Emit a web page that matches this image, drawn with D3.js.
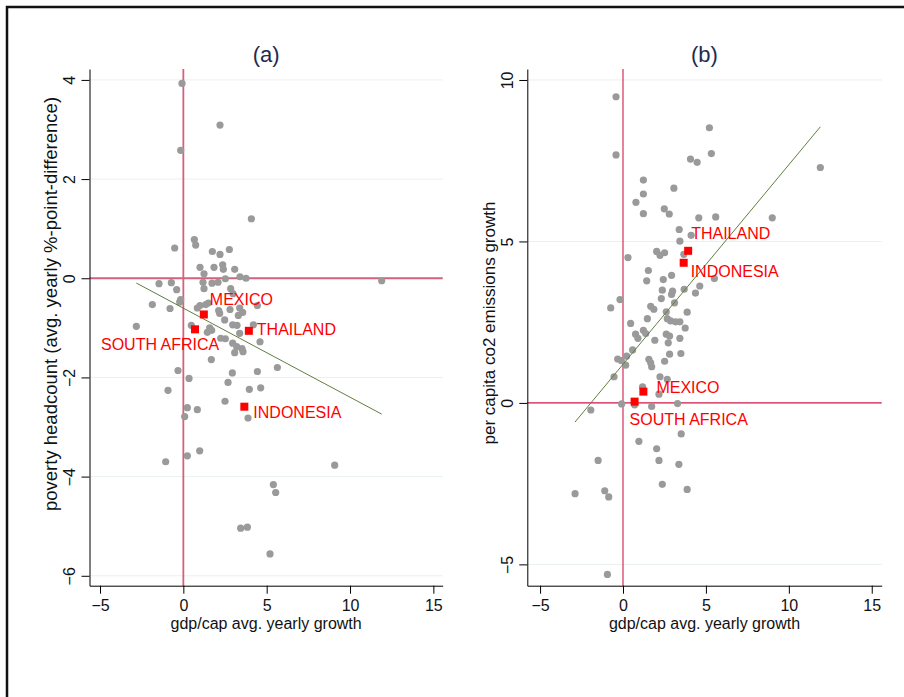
<!DOCTYPE html>
<html>
<head>
<meta charset="utf-8">
<script src="https://cdn.jsdelivr.net/npm/d3@7"></script>
<style>
  body { margin: 0; background: #fff; }
  svg { display: block; font-family: "Liberation Sans", Arial, sans-serif; }
</style>
</head>
<body>
<div id="chart"></div>
<script>
// panel (a): gdp/cap growth vs poverty headcount change
const gdpA = [-0.08, 2.20, -0.16, 4.08, -0.52, 0.66, 0.74, 1.74, 2.20, 2.76,
  1.00, 1.84, 2.36, 2.40, 3.08, 1.24, 3.40, 3.76, 2.52, 1.18,
  1.72, 2.08, -1.46, -0.72, -0.40, 1.24, 2.84, 2.98, 11.90, -0.16,
  -0.22, -1.86, -0.80, 0.84, 1.34, 2.12, 2.80, 3.38, 3.56, 4.44,
  2.18, 2.48, 2.96, 3.22, 4.20, -2.82, 0.48, 1.58, 1.44, 3.38,
  2.24, 2.52, 4.60, 2.96, 3.20, 3.52, 3.58, 3.08, 1.68, 5.64,
  -0.32, 2.94, 4.44, 0.34, 2.68, -0.92, 3.96, 4.64, 2.50, 0.24,
  0.84, 0.08, 3.88, -1.06, 0.24, 0.98, 9.08, 5.40, 5.54, 3.44,
  3.84, 5.20, 1.00, 1.50, 1.70, 3.30];
const povA = [3.93, 3.09, 2.58, 1.20, 0.61, 0.78, 0.67, 0.54, 0.48, 0.58,
  0.22, 0.22, 0.27, 0.18, 0.18, 0.09, 0.03, 0.00, -0.01, -0.08,
  -0.10, -0.08, -0.11, -0.09, -0.23, -0.21, -0.21, -0.31, -0.05, -0.43,
  -0.48, -0.53, -0.61, -0.60, -0.53, -0.65, -0.63, -0.60, -0.69, -0.55,
  -0.71, -0.84, -0.94, -0.95, -0.94, -0.97, -0.95, -1.00, -1.09, -1.11,
  -1.21, -1.22, -1.28, -1.31, -1.38, -1.42, -1.48, -1.50, -1.64, -1.80,
  -1.86, -1.91, -1.88, -2.02, -2.10, -2.26, -2.24, -2.21, -2.48, -2.61,
  -2.65, -2.79, -2.82, -3.70, -3.58, -3.48, -3.77, -4.16, -4.32, -5.04,
  -5.02, -5.56, -0.55, -0.50, -1.05, -0.75];

// panel (b): gdp/cap growth vs per capita co2 emissions growth
const gdpB = [-0.42, 5.21, -0.42, 5.33, 4.07, 4.47, 11.90, 1.23, 3.07, 1.23,
  0.78, 1.23, 2.49, 2.79, 4.57, 5.59, 9.00, 3.39, 3.43, 4.11,
  0.30, 2.03, 2.51, 2.23, 3.67, 1.53, 1.43, 2.43, 2.93, 5.51,
  2.37, 2.99, 2.93, 3.69, 4.63, 4.37, 2.31, -0.18, 3.11, -0.74,
  1.67, 1.86, 2.61, 3.87, 1.47, 2.67, 2.87, 3.17, 3.43, 0.46,
  3.75, 1.23, 0.76, 0.90, 1.37, 2.61, 2.81, 2.73, 1.92, 3.43,
  0.58, 2.81, 3.49, -0.32, -0.10, 0.22, 0.16, 1.56, 1.67, 1.73,
  2.51, -0.54, 2.23, 2.67, 1.18, 2.17, -0.08, 0.70, 1.73, 3.29,
  -1.94, 3.51, 0.96, 2.03, -1.50, 2.17, 3.37, 2.37, 3.87, -2.89,
  -1.10, -0.86, -0.94];
const co2B = [9.48, 8.52, 7.68, 7.72, 7.55, 7.45, 7.29, 6.90, 6.65, 6.47,
  6.21, 5.86, 6.01, 5.85, 5.73, 5.76, 5.73, 5.37, 5.01, 5.19,
  4.50, 4.69, 4.65, 4.57, 4.60, 4.10, 3.78, 3.82, 3.95, 3.85,
  3.49, 3.46, 3.36, 3.52, 3.62, 3.40, 3.23, 3.20, 3.10, 2.94,
  2.99, 2.90, 2.82, 2.81, 2.61, 2.61, 2.54, 2.51, 2.51, 2.46,
  2.32, 2.25, 2.13, 2.00, 2.15, 2.13, 2.07, 1.86, 1.94, 2.00,
  1.64, 1.51, 1.53, 1.36, 1.31, 1.45, 1.17, 1.35, 1.24, 1.12,
  1.29, 0.81, 0.81, 0.73, 0.50, 0.27, -0.03, -0.06, -0.11, -0.02,
  -0.22, -0.96, -1.19, -1.42, -1.78, -1.78, -1.90, -2.52, -2.68, -2.81,
  -2.72, -2.91, -5.31];

// highlighted countries
const countries = ["MEXICO", "SOUTH AFRICA", "THAILAND", "INDONESIA"];
const countryGdp = [1.23, 0.70, 3.93, 3.66];
const countryPov = [-0.73, -1.03, -1.06, -2.59];
const countryCo2 = [0.35, 0.04, 4.71, 4.34];

// linear fits [intercept, slope]
const fitA = [-0.603, -0.1796];
const fitB = [1.195, 0.618];

const xTicks = [-5, 0, 5, 10, 15];
const yTicksA = [-6, -4, -2, 0, 2, 4];
const yTicksB = [-5, 0, 5, 10];

const width = 904, height = 697;
const plotTop = 69, plotBottom = 585.7;

const svg = d3.select('#chart')
  .append('svg')
  .attr('width', width)
  .attr('height', height);

// outer frame
svg.append('rect')
  .attr('x', 7).attr('y', 7)
  .attr('width', 1000).attr('height', 1000)
  .attr('fill', 'none')
  .attr('stroke', '#111')
  .attr('stroke-width', 2.5);

// label offsets relative to the square marker, per panel
const labelPos = {
  a: { 'MEXICO': [6, -9], 'SOUTH AFRICA': [-94, 21], 'THAILAND': [8, 4], 'INDONESIA': [9, 11] },
  b: { 'MEXICO': [13, 1], 'SOUTH AFRICA': [-5, 23], 'THAILAND': [3, -12], 'INDONESIA': [7, 14] }
};

const panels = [
  {
    id: 'a', title: '(a)', xs: gdpA, ys: povA, cy: countryPov, fit: fitA, yTicks: yTicksA,
    yTitle: 'poverty headcount (avg. yearly %-point-difference)', yTitleSize: 18.5, yTitleMid: 304,
    left: 89.5, right: 442.7, xDom: [-5.63, 15.56], yDom: [-6.2, 4.22],
    refColor: '#d6617f', refWidth: 1.8
  },
  {
    id: 'b', title: '(b)', xs: gdpB, ys: co2B, cy: countryCo2, fit: fitB, yTicks: yTicksB,
    yTitle: 'per capita co2 emissions growth', yTitleSize: 17, yTitleMid: 323,
    left: 527.3, right: 881.7, xDom: [-5.77, 15.6], yDom: [-5.66, 10.34],
    refColor: '#d21b4a', refWidth: 1.1
  }
];

panels.forEach(drawPanel);

function drawPanel(p) {
  let x = d3.scaleLinear().domain(p.xDom).range([p.left, p.right]);
  let y = d3.scaleLinear().domain(p.yDom).range([plotBottom, plotTop]);
  let g = svg.append('g').attr('class', 'panel-' + p.id);

  // horizontal gridlines
  g.selectAll('line.grid')
    .data(p.yTicks)
    .enter().append('line')
    .attr('class', 'grid')
    .attr('x1', p.left).attr('x2', p.right)
    .attr('y1', d => y(d)).attr('y2', d => y(d))
    .attr('stroke', '#e8f0f0')
    .attr('stroke-width', 1);

  // reference lines at zero
  g.append('line')
    .attr('x1', p.left).attr('x2', p.right)
    .attr('y1', y(0)).attr('y2', y(0))
    .attr('stroke', p.refColor).attr('stroke-width', p.refWidth);
  g.append('line')
    .attr('x1', x(0)).attr('x2', x(0))
    .attr('y1', plotTop).attr('y2', plotBottom)
    .attr('stroke', p.refColor).attr('stroke-width', p.refWidth);

  // scatter
  let pts = p.xs.map((d, i) => [d, p.ys[i]]);
  g.selectAll('circle.dot')
    .data(pts)
    .enter().append('circle')
    .attr('class', 'dot')
    .attr('cx', d => x(d[0]))
    .attr('cy', d => y(d[1]))
    .attr('r', 3.6)
    .attr('fill', '#9a9a9a');

  // fitted line over the data range
  let ext = d3.extent(p.xs);
  let line = d3.line().x(d => x(d)).y(d => y(p.fit[0] + p.fit[1] * d));
  g.append('path')
    .attr('d', line(ext))
    .attr('fill', 'none')
    .attr('stroke', '#5f7f40')
    .attr('stroke-width', 1);

  // highlighted countries
  let hl = countries.map((c, i) => ({ name: c, gx: countryGdp[i], gy: p.cy[i] }));
  g.selectAll('rect.country')
    .data(hl)
    .enter().append('rect')
    .attr('class', 'country')
    .attr('x', d => x(d.gx) - 4)
    .attr('y', d => y(d.gy) - 4)
    .attr('width', 8).attr('height', 8)
    .attr('fill', '#ff0000');
  g.selectAll('text.country')
    .data(hl)
    .enter().append('text')
    .attr('class', 'country')
    .attr('x', d => x(d.gx) + labelPos[p.id][d.name][0])
    .attr('y', d => y(d.gy) + labelPos[p.id][d.name][1])
    .attr('font-size', 16)
    .attr('fill', '#ff0000')
    .text(d => d.name);

  // x axis
  let xAxis = d3.axisBottom(x).tickValues(xTicks).tickSize(8).tickSizeOuter(0).tickPadding(6);
  let gx = g.append('g')
    .attr('transform', 'translate(0,' + plotBottom + ')')
    .call(xAxis);
  gx.select('.domain').attr('stroke', '#000');
  gx.selectAll('.tick line').attr('stroke', '#000');
  gx.selectAll('.tick text')
    .attr('font-size', 16)
    .attr('font-family', '"Liberation Sans", Arial, sans-serif')
    .attr('fill', '#111');

  // y axis with vertical tick labels
  let yAxis = d3.axisLeft(y).tickValues(p.yTicks).tickSize(8).tickSizeOuter(0);
  let gy = g.append('g')
    .attr('transform', 'translate(' + p.left + ',0)')
    .call(yAxis);
  gy.select('.domain').attr('stroke', '#000');
  gy.selectAll('.tick line').attr('stroke', '#000');
  gy.selectAll('.tick text')
    .attr('transform', 'rotate(-90)')
    .attr('x', 0)
    .attr('y', -14.5)
    .attr('dy', 0)
    .attr('text-anchor', 'middle')
    .attr('font-size', 16)
    .attr('font-family', '"Liberation Sans", Arial, sans-serif')
    .attr('fill', '#111');

  // titles
  let cx = (p.left + p.right) / 2;
  g.append('text')
    .attr('x', cx).attr('y', 62)
    .attr('text-anchor', 'middle')
    .attr('font-size', 22)
    .attr('fill', '#1e2b4f')
    .text(p.title);
  g.append('text')
    .attr('x', cx).attr('y', 629)
    .attr('text-anchor', 'middle')
    .attr('font-size', 16)
    .attr('fill', '#111')
    .text('gdp/cap avg. yearly growth');
  g.append('text')
    .attr('transform', 'translate(' + (p.left - 32.5) + ',' + p.yTitleMid + ') rotate(-90)')
    .attr('text-anchor', 'middle')
    .attr('font-size', p.yTitleSize)
    .attr('fill', '#111')
    .text(p.yTitle);
}
</script>
</body>
</html>
